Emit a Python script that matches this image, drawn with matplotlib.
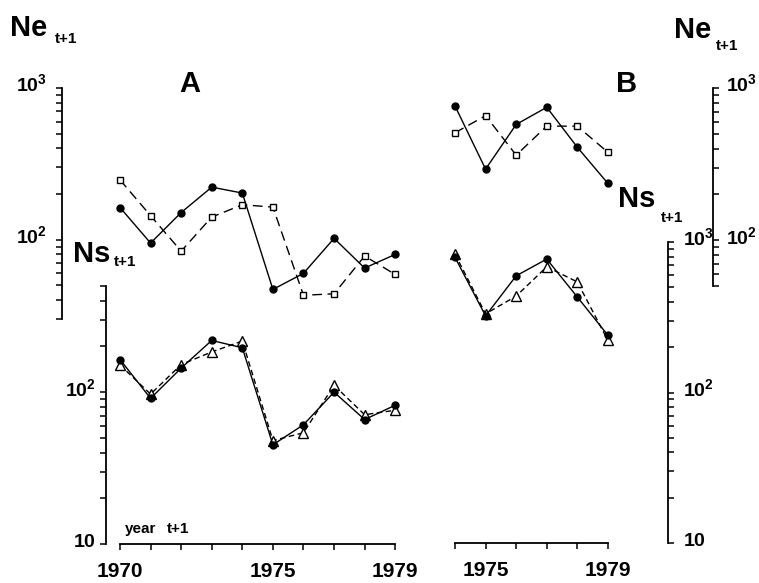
import matplotlib
matplotlib.use("Agg")
import matplotlib.pyplot as plt
from matplotlib.ticker import FuncFormatter, NullFormatter, FixedLocator
from matplotlib.transforms import ScaledTranslation
import numpy as np

plt.rcParams['font.family'] = ['Liberation Sans', 'DejaVu Sans']
plt.rcParams['font.weight'] = 'bold'
plt.rcParams['mathtext.fontset'] = 'custom'
plt.rcParams['mathtext.rm'] = 'Liberation Sans:bold'
plt.rcParams['mathtext.bf'] = 'Liberation Sans:bold'

# --- data ---
years_a = [1970, 1971, 1972, 1973, 1974, 1975, 1976, 1977, 1978, 1979]
ne_a_filled = [163, 95, 151, 222, 203, 47, 60, 102, 65, 80]
ne_a_open = [248, 144, 84, 141, 170, 164, 43, 44, 78, 59]
ns_a_filled = [164, 91, 144, 219, 196, 45, 61, 100, 66, 82]
ns_a_open = [151, 97, 152, 184, 217, 48, 54, 111, 71, 76]

years_b = [1974, 1975, 1976, 1977, 1978, 1979]
ne_b_filled = [762, 293, 576, 747, 408, 236]
ne_b_open = [508, 658, 362, 562, 561, 378]
ns_b_filled = [791, 323, 596, 770, 431, 240]
ns_b_open = [832, 333, 437, 684, 543, 222]

xlabels_a = {1970: '1970', 1975: '1975', 1979: '1979'}
xlabels_b = {1975: '1975', 1979: '1979'}

W, H = 759, 583
fig = plt.figure(figsize=(W / 100, H / 100), dpi=100)

YR_A0, PX_A0 = 1970, 120.0
YR_B0, PX_B0 = 1974, 455.0
PX_PER_YR = 30.58
TICK_LEN = 4.5


def px_axes(left, top, right, bottom, yr0, px0):
    ax = fig.add_axes([left / W, 1 - bottom / H, (right - left) / W, (bottom - top) / H])
    ax.patch.set_visible(False)
    ax.set_xlim(yr0 - (px0 - left) / PX_PER_YR, yr0 + (right - px0) / PX_PER_YR)
    for s in ax.spines.values():
        s.set_visible(False)
        s.set_linewidth(1.3)
    ax.set_yscale('log')
    ax.tick_params(axis='both', which='both', direction='out', length=TICK_LEN, width=1.1,
                   labelsize=14)
    ax.yaxis.set_minor_formatter(NullFormatter())
    ax.yaxis.set_major_formatter(FuncFormatter(
        lambda v, p: r'$\mathbf{10}$' if abs(v - 10) < 1e-6 else r'$\mathbf{10^{%d}}$' % round(np.log10(v))))
    ax.set_xticks([])
    return ax


def year_axis(ax, years, labels):
    ax.spines['bottom'].set_visible(True)
    ax.spines['bottom'].set_bounds(years[0], years[-1])
    ax.xaxis.set_major_locator(FixedLocator(years))
    ax.set_xticklabels([labels.get(y, '') for y in years])
    ax.tick_params(axis='x', labelsize=15, pad=8.5, length=TICK_LEN)


def left_axis(ax, pad):
    ax.spines['left'].set_visible(True)
    ax.tick_params(axis='y', which='both', left=True, right=False, labelleft=True,
                   labelright=False, pad=pad)


def right_axis(ax, pad):
    ax.spines['right'].set_visible(True)
    ax.tick_params(axis='y', which='both', left=False, right=True, labelleft=False,
                   labelright=True, pad=pad)


def baseline_labels(ax):
    shift = ScaledTranslation(0, -2.5 / 72, fig.dpi_scale_trans)
    for t in ax.yaxis.get_major_ticks():
        for lbl in (t.label1, t.label2):
            lbl.set_verticalalignment('baseline')
            lbl.set_transform(lbl.get_transform() + shift)


def ne_lines(ax, x, filled, opened):
    ax.plot(x, opened, color='black', lw=1.0, ls=(0, (7, 4)), marker='s', ms=5,
            mfc='white', mec='black', mew=1.0, clip_on=False)
    ax.plot(x, filled, color='black', lw=1.0, marker='o', ms=5, mfc='black',
            mec='black', clip_on=False)


def ns_lines(ax, x, filled, opened):
    ax.plot(x, opened, color='black', lw=1.0, ls=(0, (4, 2.5)), marker='^', ms=7,
            mfc='white', mec='black', mew=1.0, clip_on=False)
    ax.plot(x, filled, color='black', lw=1.0, marker='o', ms=5, mfc='black',
            mec='black', clip_on=False)


# panel A, Ne (upper)
ax_ne_a = px_axes(62, 88, 400, 319, YR_A0, PX_A0)
ax_ne_a.set_ylim(30, 1000)
left_axis(ax_ne_a, 6.5)
ne_lines(ax_ne_a, years_a, ne_a_filled, ne_a_open)

# panel A, Ns (lower)
ax_ns_a = px_axes(106, 286, 400, 544, YR_A0, PX_A0)
ax_ns_a.set_ylim(10, 500)
left_axis(ax_ns_a, 2.5)
year_axis(ax_ns_a, years_a, xlabels_a)
ns_lines(ax_ns_a, years_a, ns_a_filled, ns_a_open)

# panel B, Ns (lower, right axis)
ax_ns_b = px_axes(440, 242, 668, 543, YR_B0, PX_B0)
ax_ns_b.set_ylim(10, 1000)
right_axis(ax_ns_b, 6)
year_axis(ax_ns_b, years_b, xlabels_b)
ns_lines(ax_ns_b, years_b, ns_b_filled, ns_b_open)

# panel B, Ne (upper, right axis)
ax_ne_b = px_axes(440, 88, 713, 286, YR_B0, PX_B0)
ax_ne_b.set_ylim(50, 1000)
right_axis(ax_ne_b, 5)
ne_lines(ax_ne_b, years_b, ne_b_filled, ne_b_open)

for ax in (ax_ne_a, ax_ns_a, ax_ns_b, ax_ne_b):
    baseline_labels(ax)


def ftext(x, y, s, size, **kw):
    fig.text(x / W, 1 - y / H, s, fontsize=size, fontweight='bold', va='baseline', **kw)


ftext(10, 36, 'Ne', 21)
ftext(55, 43, 't+1', 11)
ftext(674, 38, 'Ne', 21)
ftext(716, 50, 't+1', 11)
ftext(73, 262, 'Ns', 21)
ftext(114, 266, 't+1', 11)
ftext(618, 207, 'Ns', 21)
ftext(661, 222, 't+1', 11)
ftext(190, 92, 'A', 21, ha='center')
ftext(627, 92, 'B', 21, ha='center')
ftext(125, 533, 'year', 11)
ftext(167, 533, 't+1', 11)

fig.savefig('out.png', dpi=100)
